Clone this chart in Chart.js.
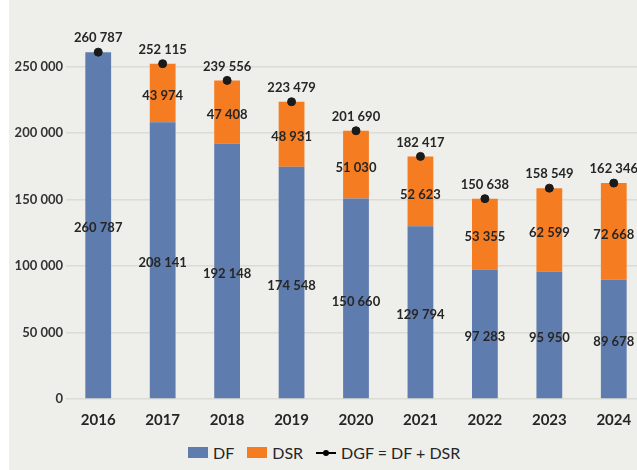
<!DOCTYPE html>
<html>
<head>
<meta charset="utf-8">
<script src="https://cdn.jsdelivr.net/npm/chart.js@4"></script>
<style>
  body { margin: 0; background: #fff; font-family: Lato, sans-serif; }
  #panel { position: absolute; left: 9px; top: 0; width: 628px; height: 470px; background: #eeeeea; overflow: hidden; }
  #wrap { position: absolute; left: 0; top: -30px; width: 642px; height: 455px; }
  #legend { position: absolute; top: 441px; left: 179px; font-size: 16px; color: #262626; white-space: nowrap; }
  #legend span { display: inline-block; vertical-align: middle; }
  .box { width: 20px; height: 11px; margin-right: 5px; }
  .item { margin-right: 13px; }
  .lineKey { position: relative; width: 20px; height: 11px; margin-right: 5px; }
  .lineKey:before { content: ''; position: absolute; left: 0; right: 0; top: 5px; height: 2px; background: #000; }
  .lineKey:after { content: ''; position: absolute; left: 7px; top: 3px; width: 6px; height: 6px; border-radius: 50%; background: #000; }
</style>
</head>
<body>
<div id="panel">
  <div id="wrap"><canvas id="chart"></canvas></div>
  <div id="legend"><span class="box" style="background:#5f7cae"></span><span class="item">DF</span><span class="box" style="background:#f57c21"></span><span class="item">DSR</span><span class="lineKey"></span><span>DGF = DF + DSR</span></div>
</div>
<script>
const years = ['2016', '2017', '2018', '2019', '2020', '2021', '2022', '2023', '2024'];
const dfValues = [260787, 208141, 192148, 174548, 150660, 129794, 97283, 95950, 89678];
const dsrValues = [0, 43974, 47408, 48931, 51030, 52623, 53355, 62599, 72668];
const dgfValues = [260787, 252115, 239556, 223479, 201690, 182417, 150638, 158549, 162346];

const blue = '#5f7cae';
const orange = '#f57c21';

function fmt(v) {
    return String(v).replace(/\B(?=(\d{3})+(?!\d))/g, ' ');
}

// draws the value labels on bars and above the total points
const valueLabels = {
    id: 'valueLabels',
    afterDatasetsDraw(chart) {
        const ctx = chart.ctx;
        ctx.save();
        ctx.font = 'bold 13px Lato';
        ctx.fillStyle = '#262626';
        ctx.textAlign = 'center';
        ctx.textBaseline = 'middle';
        chart.data.datasets.forEach((ds, i) => {
            const meta = chart.getDatasetMeta(i);
            meta.data.forEach((el, j) => {
                const v = ds.data[j];
                if (!v) return;
                if (ds.type === 'line') {
                    ctx.fillText(fmt(v), el.x, el.y - 14);
                } else {
                    ctx.fillText(fmt(v), el.x, (el.y + el.base) / 2 + 3);
                }
            });
        });
        ctx.restore();
    }
};

const ctx = document.getElementById('chart').getContext('2d');

const chart = new Chart(ctx, {
    data: {
        labels: years,
        datasets: [{
            type: 'line',
            label: 'DGF = DF + DSR',
            data: dgfValues,
            showLine: false,
            pointRadius: 4,
            pointHoverRadius: 4,
            pointBackgroundColor: '#1a1a1a',
            pointBorderColor: '#1a1a1a',
            order: 0
        }, {
            type: 'bar',
            label: 'DF',
            data: dfValues,
            backgroundColor: blue,
            barPercentage: 0.4,
            categoryPercentage: 1,
            order: 1
        }, {
            type: 'bar',
            label: 'DSR',
            data: dsrValues,
            backgroundColor: orange,
            barPercentage: 0.4,
            categoryPercentage: 1,
            order: 2
        }]
    },
    options: {
        responsive: true,
        maintainAspectRatio: false,
        animation: false,
        layout: {
            padding: { top: 30, left: 0, right: 0, bottom: 0 }
        },
        plugins: {
            legend: { display: false },
            tooltip: { enabled: false }
        },
        scales: {
            x: {
                stacked: true,
                grid: { display: false },
                border: { display: false },
                ticks: {
                    padding: 4,
                    color: '#262626',
                    font: { family: 'Lato', size: 15, weight: 'bold' }
                },
                afterFit(scale) { scale.height = 26; }
            },
            y: {
                stacked: true,
                min: 0,
                max: 300000,
                border: { display: false },
                grid: {
                    color: '#dcdcd6',
                    lineWidth: 1.5,
                    drawTicks: false
                },
                ticks: {
                    stepSize: 50000,
                    padding: 3,
                    color: '#333333',
                    font: { family: 'Lato', size: 13, weight: 'bold' },
                    callback: (v) => v >= 300000 ? null : fmt(v)
                },
                afterFit(scale) { scale.width = 57; }
            }
        }
    },
    plugins: [valueLabels]
});
</script>
</body>
</html>
